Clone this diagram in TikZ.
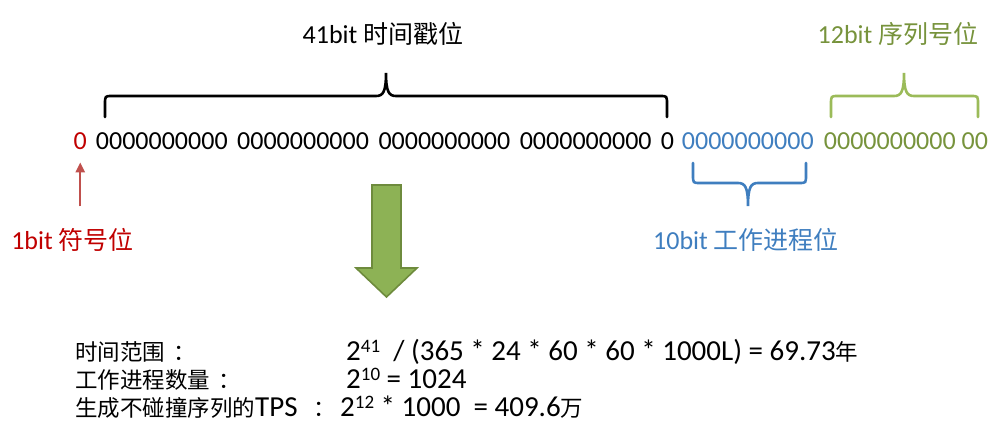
\documentclass[tikz,border=0pt]{standalone}
\usepackage{fontspec}
\setmainfont{Carlito}
\newfontfamily\cjk{Noto Sans CJK SC}
\usetikzlibrary{arrows.meta}

\definecolor{signred}{HTML}{C00000}
\definecolor{signarrowred}{HTML}{C0504D}
\definecolor{workerblue}{HTML}{3F7EBF}
\definecolor{seqgreen}{HTML}{77933C}
\definecolor{seqbrace}{HTML}{9BBB59}
\definecolor{arrowfill}{HTML}{8DB255}
\definecolor{arrowdraw}{HTML}{6E8B3D}

\newcommand{\supnum}[1]{\raisebox{8pt}{\fontsize{19}{19}\selectfont #1}}
\newcommand{\cjklbl}[1]{{\cjk\fontsize{25}{30}\selectfont #1}}
\newcommand{\cjkcalc}[1]{{\cjk\fontsize{22.5}{26}\selectfont #1}}

\tikzset{
  bits/.style={anchor=base west, inner sep=0pt, font=\fontsize{26}{30}\selectfont},
  fieldlbl/.style={anchor=base, inner sep=0pt, font=\fontsize{26}{30}\selectfont},
  calc/.style={anchor=base west, inner sep=0pt, font=\fontsize{29}{32}\selectfont},
  bracestroke/.style={line width=2.6pt, line cap=round},
  signarrow/.style={signarrowred, line width=2.4pt, -{Triangle[length=10pt,width=9pt]}},
}

\begin{document}
\begin{tikzpicture}[x=1pt,y=-1pt]
   \useasboundingbox (0,0) rectangle (996,426);
   % the 64 bits
   \path (73.5,149) node[bits,text=signred] (zero) {0};
   \foreach \i in {1,...,4}
     \path ({95.7+141.3*(\i-1)},149) node[bits] (ts\i) {0000000000};
   \path (660.7,149) node[bits] (tslast) {0};
   \path (681.7,149) node[bits,text=workerblue] (worker) {0000000000};
   \path (823.7,149) node[bits,text=seqgreen] (seq) {0000000000 00};

   % field labels
   \path (383,43.5) node[fieldlbl] (tslbl) {41bit \cjklbl{时间戳位}};
   \path (898,43.5) node[fieldlbl,text=seqgreen] (seqlbl) {12bit \cjklbl{序列号位}};
   \path (746,249) node[fieldlbl,text=workerblue] (workerlbl) {10bit \cjklbl{工作进程位}};
   \path (72.5,249) node[fieldlbl,text=signred] (signlbl) {1bit \cjklbl{符号位}};

   % braces
   \draw[bracestroke] (105,117) -- (105,104) .. controls (105,96) .. (112,96) -- (376,96)
     .. controls (383,96) and (386,92) .. (386,73) .. controls (386,92) and (389,96) .. (396,96)
     -- (660,96) .. controls (667,96) .. (667,104) -- (667,117);
   \draw[bracestroke,seqbrace] (831,117) -- (831,104) .. controls (831,96) .. (838,96) -- (894,96)
     .. controls (901,96) and (904,92) .. (904,73) .. controls (904,92) and (907,96) .. (914,96)
     -- (971,96) .. controls (978,96) .. (978,104) -- (978,117);
   \draw[bracestroke,workerblue] (693,163) -- (693,175) .. controls (693,183) .. (700,183) -- (738,183)
     .. controls (745,183) and (748,187) .. (748,206) .. controls (748,187) and (751,183) .. (758,183)
     -- (799,183) .. controls (806,183) .. (806,175) -- (806,163);

   % sign bit arrow
   \coordinate (signtail) at ([yshift=-57pt]zero.south);
   \draw[signarrow] (signtail) -- ([yshift=-13pt]zero.south);

   % big arrow down
   \draw[arrowdraw, fill=arrowfill, line width=1.6pt, line join=miter]
     (372,185) -- (401,185) -- (401,268) -- (417,268) -- (386.5,297) -- (356,268) -- (372,268) -- cycle;

   % results
   \path (75,360) node[calc] (rangekey) {\cjkcalc{时间范围\hspace{8pt}：}};
   \path (346,360) node[calc] (rangeval) {2\supnum{41}~~/ (365 * 24 * 60 * 60 * 1000L) = 69.73\cjkcalc{年}};
   \path (75,388) node[calc] (workerkey) {\cjkcalc{工作进程数量\hspace{8pt}：}};
   \path (346,388) node[calc] (workerval) {2\supnum{10} = 1024};
   \path (75,416) node[calc] (tpskey) {\cjkcalc{生成不碰撞序列的}TPS\cjkcalc{\hspace{16pt}：}};
   \path (340,416) node[calc] (tpsval) {2\supnum{12} * 1000~~= 409.6\cjkcalc{万}};
\end{tikzpicture}
\end{document}
